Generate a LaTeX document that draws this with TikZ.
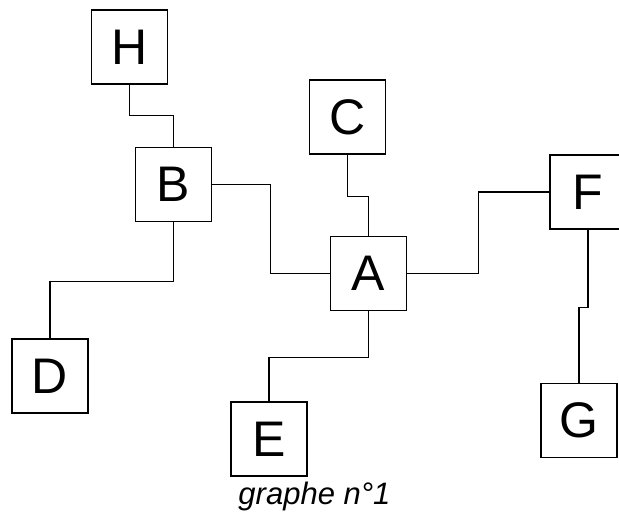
\documentclass[tikz,border=0pt]{standalone}
\usepackage{fontspec}
\setmainfont{Liberation Sans}
\tikzset{
  gbox/.style={draw, line width=1.6pt, minimum width=76pt, minimum height=74pt, inner sep=0pt, font=\fontsize{50}{60}\selectfont},
  gline/.style={line width=1.2pt}
}
\begin{document}
\begin{tikzpicture}[x=1pt,y=1pt]
\useasboundingbox (0,0) rectangle (619,514);
\clip (0,0) rectangle (619,514);
\node[gbox] (H) at (129.5,467) {H};
\node[gbox] (B) at (173.5,329.5) {B};
\node[gbox] (C) at (347.5,397) {C};
\node[gbox] (A) at (368.5,240.5) {A};
\node[gbox] (D) at (50,138) {D};
\node[gbox] (E) at (269,75) {E};
\node[gbox] (F) at (588,322) {F};
\node[gbox] (G) at (579,93.5) {G};
\draw[gline] (H.south) -- ++(0,-31) -| (B.north);
\draw[gline] (C.south) -- ++(0,-42) -| (A.north);
\draw[gline] (B.east) -- ++(58,0) |- (A.west);
\draw[gline] (A.east) -- ++(71,0) |- (F.west);
\draw[gline] (B.south) -- ++(0,-59) -| (D.north);
\draw[gline] (A.south) -- ++(0,-46) -| (E.north);
\draw[gline] (F.south) -- ++(0,-78) -| (G.north);
\node[anchor=base, font=\fontsize{31}{36}\selectfont\itshape] (cap) at (314.5,9) {graphe n°1};
\end{tikzpicture}
\end{document}
